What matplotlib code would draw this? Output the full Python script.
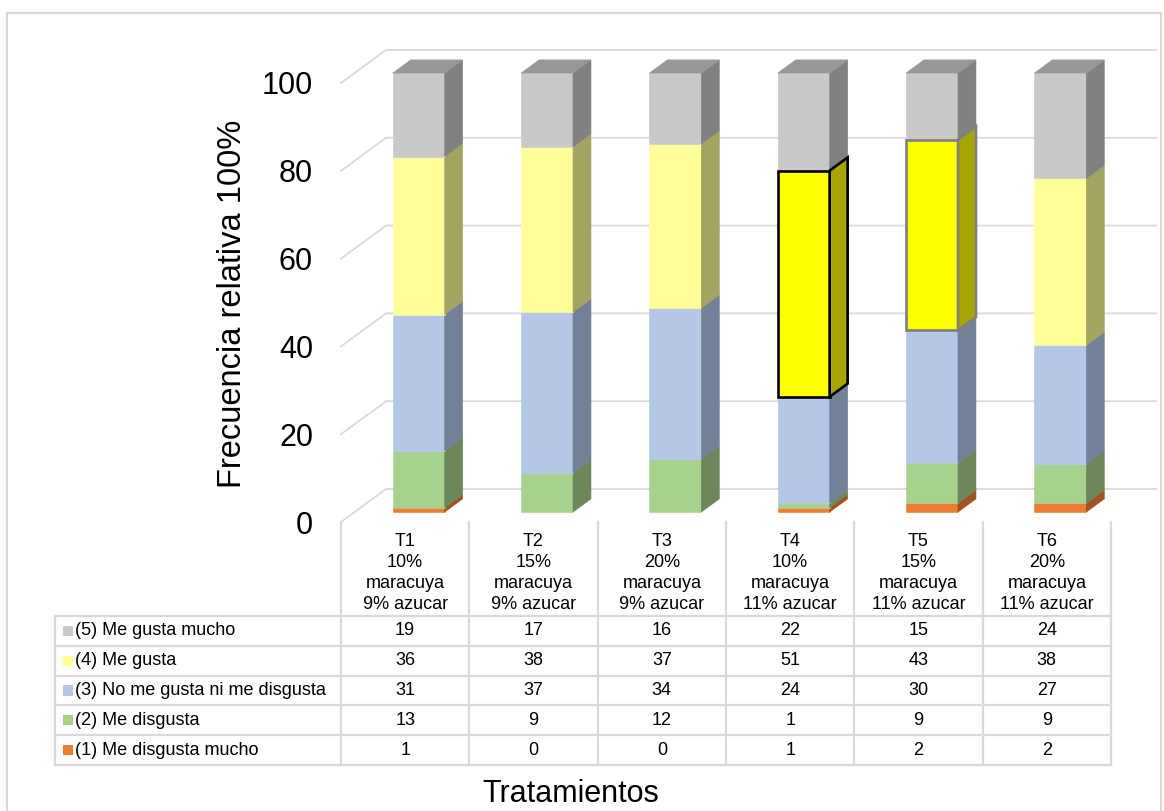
import matplotlib
matplotlib.use("Agg")
from matplotlib import pyplot as plt
from matplotlib.patches import Polygon, Rectangle
from matplotlib.lines import Line2D
import numpy as np


plt.rcParams["font.family"] = ["Liberation Sans", "DejaVu Sans"]

CATEGORIES = [
    "T1\n10%\nmaracuya\n9% azucar",
    "T2\n15%\nmaracuya\n9% azucar",
    "T3\n20%\nmaracuya\n9% azucar",
    "T4\n10%\nmaracuya\n11% azucar",
    "T5\n15%\nmaracuya\n11% azucar",
    "T6\n20%\nmaracuya\n11% azucar",
]

# top-down, as listed in the data table
LEVELS = [
    "(5) Me gusta mucho",
    "(4) Me gusta",
    "(3) No me gusta ni me disgusta",
    "(2) Me disgusta",
    "(1) Me disgusta mucho",
]
GUSTA_MUCHO = [19, 17, 16, 22, 15, 24]
GUSTA = [36, 38, 37, 51, 43, 38]
NI_NI = [31, 37, 34, 24, 30, 27]
DISGUSTA = [13, 9, 12, 1, 9, 9]
DISGUSTA_MUCHO = [1, 0, 0, 1, 2, 2]

YTICKS = [0, 20, 40, 60, 80, 100]

# (front, side, top) per level, top-down
COLORS = [
    ("#c9c9c9", "#818181", "#979797"),
    ("#ffff99", "#a3a362", "#bfbf73"),
    ("#b4c7e7", "#738096", "#8796ad"),
    ("#a9d18e", "#6c875b", "#7f9d6b"),
    ("#ed7d31", "#a0521f", "#b25e25"),
]
# highlighted blocks: (level index, category index) -> outline colour
HIGHLIGHT = {(1, 3): "black", (1, 4): "#7f7f7f"}
HIGHLIGHT_FACE = ("#ffff00", "#a6a600")
GRID = "#d9d9d9"

W, H = 1164, 811
DPI = 100

COL_PX = 128.33   # pixels per category column
PCT_PX = 4.39     # pixels per percent
X0_PX = 341       # left edge of the first column
Y0_PX = 522       # front edge of the floor

DEPTH_X = 45 / COL_PX
DEPTH_Y = 33 / PCT_PX
BAR_Z = (0.3, 0.7)
BAR_W = 0.405


def fig_box(left, top, right, bottom):
    return [left / W, 1 - bottom / H, (right - left) / W, (bottom - top) / H]


def main():
    fig = plt.figure(figsize=(W / DPI, H / DPI), dpi=DPI)
    n = len(CATEGORIES)

    #
    # 3d stacked bars
    #

    ax = fig.add_axes(fig_box(320, 20, 1164, 530))
    ax.set_xlim((320 - X0_PX) / COL_PX, (1164 - X0_PX) / COL_PX)
    ax.set_ylim((Y0_PX - 530) / PCT_PX, (Y0_PX - 20) / PCT_PX)
    for s in ax.spines.values():
        s.set_visible(False)
    ax.set_xticks([])
    ax.set_yticks(YTICKS)
    ax.tick_params(axis="y", length=0, pad=5, labelsize=22)

    for v in YTICKS:
        ax.plot([0, DEPTH_X, n + DEPTH_X], [v, v + DEPTH_Y, v + DEPTH_Y],
                color=GRID, lw=1.3, zorder=1, clip_on=False)

    counts = np.array([GUSTA_MUCHO, GUSTA, NI_NI, DISGUSTA, DISGUSTA_MUCHO], dtype=float)
    pct = counts / counts.sum(axis=0) * 100
    # stack from the bottom level up
    order = list(range(len(LEVELS)))[::-1]
    tops = np.cumsum(pct[order], axis=0)

    fx, fy = BAR_Z[0] * DEPTH_X, BAR_Z[0] * DEPTH_Y
    dx, dy = (BAR_Z[1] - BAR_Z[0]) * DEPTH_X, (BAR_Z[1] - BAR_Z[0]) * DEPTH_Y

    for i in range(n):
        left = i + 0.5 - BAR_W / 2 + fx
        right = left + BAR_W
        for k, lv in enumerate(order):
            h = pct[lv, i]
            if h <= 0:
                continue
            y1 = tops[k, i] + fy
            y0 = y1 - h
            front_c, side_c, top_c = COLORS[lv]
            edge = HIGHLIGHT.get((lv, i))
            if edge:
                front_c, side_c = HIGHLIGHT_FACE
                kw = dict(edgecolor=edge, lw=1.9, joinstyle="miter", zorder=5)
            else:
                kw = dict(lw=0.4, zorder=3)
            front = [(left, y0), (right, y0), (right, y1), (left, y1)]
            side = [(right, y0), (right + dx, y0 + dy), (right + dx, y1 + dy), (right, y1)]
            ax.add_patch(Polygon(front, closed=True, facecolor=front_c,
                                 **({"edgecolor": front_c} | kw)))
            ax.add_patch(Polygon(side, closed=True, facecolor=side_c,
                                 **({"edgecolor": side_c} | kw)))
            if k == len(order) - 1:
                top = [(left, y1), (right, y1), (right + dx, y1 + dy), (left + dx, y1 + dy)]
                ax.add_patch(Polygon(top, closed=True, facecolor=top_c,
                                     **({"edgecolor": top_c} | kw)))

    #
    # data table
    #

    tax = fig.add_axes(fig_box(55, 522, 1111, 765))
    lab_left = (55 - X0_PX) / COL_PX
    head_h = 94 / 29.8
    tax.set_xlim(lab_left, n)
    tax.set_ylim(len(LEVELS), -head_h)
    tax.axis("off")

    line_kw = dict(color=GRID, lw=1.6, clip_on=False, solid_capstyle="projecting")
    for r in range(len(LEVELS) + 1):
        tax.plot([lab_left, n], [r, r], **line_kw)
    tax.plot([lab_left, lab_left], [0, len(LEVELS)], **line_kw)
    for c in range(n + 1):
        tax.plot([c, c], [-head_h, len(LEVELS)], **line_kw)

    step = 21 / 29.8
    mid = -head_h / 2 + 0.12
    for c, label in enumerate(CATEGORIES):
        parts = label.split("\n")
        for j, part in enumerate(parts):
            tax.text(c + 0.5, mid + (j - (len(parts) - 1) / 2) * step, part,
                     ha="center", va="center", fontsize=13)

    table_rows = [GUSTA_MUCHO, GUSTA, NI_NI, DISGUSTA, DISGUSTA_MUCHO]
    for r, (name, vals) in enumerate(zip(LEVELS, table_rows)):
        tax.add_patch(Rectangle((lab_left + 8 / COL_PX, r + 0.5 - 0.17), 10 / COL_PX, 0.34,
                                facecolor=COLORS[r][0], edgecolor="none", clip_on=False))
        tax.text(lab_left + 20 / COL_PX, r + 0.5, name, ha="left", va="center", fontsize=13)
        for c, v in enumerate(vals):
            tax.text(c + 0.5, r + 0.5, str(v), ha="center", va="center", fontsize=13)

    #
    # titles and frame
    #

    fig.text(232 / W, 1 - 304 / H, "Frecuencia relativa 100%", rotation=90,
             ha="center", va="center", fontsize=23.5)
    fig.text(571 / W, 1 - 794 / H, "Tratamientos", ha="center", va="center", fontsize=22)

    frame_kw = dict(color=GRID, lw=1.5, transform=fig.transFigure)
    fig.add_artist(Line2D([7 / W, 7 / W], [0, 1 - 13 / H], **frame_kw))
    fig.add_artist(Line2D([7 / W, 1161 / W], [1 - 13 / H, 1 - 13 / H], **frame_kw))
    fig.add_artist(Line2D([1161 / W, 1161 / W], [0, 1 - 13 / H], **frame_kw))

    fig.savefig("out.png", dpi=DPI)


if __name__ == "__main__":
    main()
